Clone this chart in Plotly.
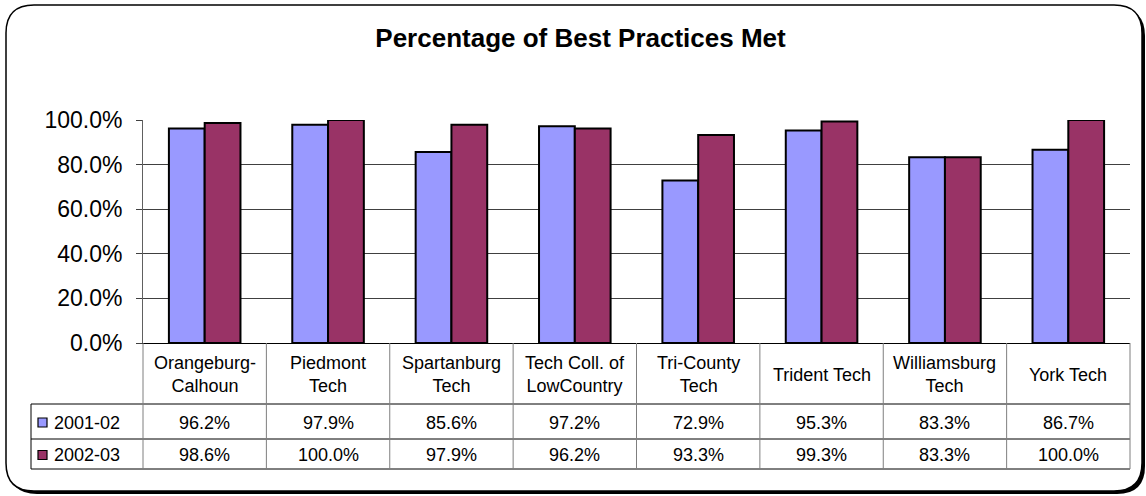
import plotly.graph_objects as go

# ---------------- data ----------------
categories = ["Orangeburg-<br>Calhoun", "Piedmont<br>Tech", "Spartanburg<br>Tech",
              "Tech Coll. of<br>LowCountry", "Tri-County<br>Tech", "Trident Tech",
              "Williamsburg<br>Tech", "York Tech"]
series_names = ["2001-02", "2002-03"]
values_2001_02 = [0.962, 0.979, 0.856, 0.972, 0.729, 0.953, 0.833, 0.867]
values_2002_03 = [0.986, 1.000, 0.979, 0.962, 0.933, 0.993, 0.833, 1.000]
y_ticks = [0.0, 0.2, 0.4, 0.6, 0.8, 1.0]
title_text = "Percentage of Best Practices Met"

# ---------------- styling / geometry ----------------
colors = ["#9999FF", "#993366"]
FONT = "Liberation Sans, Arial, sans-serif"
W, H = 1146, 496
L, R, T, B = 143, 1130, 120, 343          # plot area in pixels
HDR_BOT, ROW1_BOT, TBL_BOT, LEG_LEFT = 404, 439, 469, 31
XR = [-0.5, len(categories) - 0.5]


def px(x):
    return (x - L) / (R - L)


def py(y):
    return (B - y) / (B - T)


def xd(v):  # x-axis value -> paper
    return (v - XR[0]) / (XR[1] - XR[0])


def rounded(x0, y0, x1, y1, r):
    pts = [
        f"M {px(x0 + r)} {py(y0)}",
        f"L {px(x1 - r)} {py(y0)}",
        f"Q {px(x1)} {py(y0)} {px(x1)} {py(y0 + r)}",
        f"L {px(x1)} {py(y1 - r)}",
        f"Q {px(x1)} {py(y1)} {px(x1 - r)} {py(y1)}",
        f"L {px(x0 + r)} {py(y1)}",
        f"Q {px(x0)} {py(y1)} {px(x0)} {py(y1 - r)}",
        f"L {px(x0)} {py(y0 + r)}",
        f"Q {px(x0)} {py(y0)} {px(x0 + r)} {py(y0)}",
        "Z",
    ]
    return " ".join(pts)


idx = list(range(len(categories)))
series_values = [values_2001_02, values_2002_03]

fig = go.Figure()
for name, vals, col in zip(series_names, series_values, colors):
    fig.add_trace(go.Bar(x=idx, y=vals, name=name, marker_color=col,
                         marker_line_color="black", marker_line_width=2,
                         showlegend=False, hoverinfo="skip"))

shapes = []
# outer frame with shadow
shapes.append(dict(type="path", xref="paper", yref="paper", layer="below",
                   path=rounded(9, 8, 1145, 494, 28),
                   fillcolor="black", line=dict(width=0)))
shapes.append(dict(type="path", xref="paper", yref="paper", layer="below",
                   path=rounded(6, 5, 1142, 491, 28),
                   fillcolor="white", line=dict(color="black", width=1.5)))

# horizontal table lines
for yy in (HDR_BOT, ROW1_BOT, TBL_BOT):
    shapes.append(dict(type="line", xref="paper", yref="paper",
                       x0=px(LEG_LEFT), x1=xd(XR[1]), y0=py(yy), y1=py(yy),
                       line=dict(color="black", width=1)))
# vertical column lines
for i in range(len(categories) + 1):
    shapes.append(dict(type="line", xref="paper", yref="paper",
                       x0=xd(i - 0.5), x1=xd(i - 0.5), y0=py(B), y1=py(TBL_BOT),
                       line=dict(color="#7f7f7f", width=1)))
shapes.append(dict(type="line", xref="paper", yref="paper",
                   x0=px(LEG_LEFT), x1=px(LEG_LEFT), y0=py(HDR_BOT), y1=py(TBL_BOT),
                   line=dict(color="black", width=1)))

annotations = []
row_centers = [(HDR_BOT + ROW1_BOT) / 2 + 1, (ROW1_BOT + TBL_BOT) / 2 + 1]
for name, col, rc in zip(series_names, colors, row_centers):
    shapes.append(dict(type="rect", xref="paper", yref="paper",
                       x0=px(38), x1=px(47), y0=py(rc + 4.5), y1=py(rc - 4.5),
                       fillcolor=col, line=dict(color="black", width=1.2)))
    annotations.append(dict(x=px(52), y=py(rc), xref="paper", yref="paper",
                            text=name, showarrow=False, xanchor="left",
                            yanchor="middle", font=dict(size=18, color="black")))

for vals, rc in zip(series_values, row_centers):
    for i, v in zip(idx, vals):
        annotations.append(dict(x=i, y=py(rc), xref="x", yref="paper",
                                text=f"{v * 100:.1f}%", showarrow=False,
                                xanchor="center", yanchor="middle",
                                font=dict(size=18, color="black")))

for i, c in zip(idx, categories):
    annotations.append(dict(x=i, y=py((B + HDR_BOT) / 2 + 1), xref="x", yref="paper",
                            text=c, showarrow=False, xanchor="center",
                            yanchor="middle", font=dict(size=18, color="black")))

fig.update_layout(
    width=W, height=H,
    margin=dict(l=L, r=W - R, t=T, b=H - B, pad=0),
    paper_bgcolor="white", plot_bgcolor="rgba(0,0,0,0)",
    font=dict(family=FONT, color="black"),
    barmode="group", bargap=0.42, bargroupgap=0,
    title=dict(text=title_text, x=580.5 / W, xanchor="center", xref="container",
               y=1 - 37.5 / H, yanchor="middle", yref="container",
               font=dict(size=26, family=FONT, color="black", weight="bold")),
    xaxis=dict(range=XR, showticklabels=False, showgrid=False, zeroline=False,
               showline=True, linecolor="black", linewidth=1, ticks=""),
    yaxis=dict(range=[0, 1], tickvals=y_ticks, tickformat=".1%",
               ticks="outside", ticklen=6, tickcolor="#404040",
               showline=True, linecolor="#606060", linewidth=1,
               showgrid=True, gridcolor="#404040", gridwidth=1, zeroline=False,
               tickfont=dict(size=23, color="black"), ticklabelstandoff=9),
    shapes=shapes, annotations=annotations,
)

fig.write_html("out.html", config={"displayModeBar": False},
               post_script="document.body.style.margin='0';document.body.style.overflow='hidden';")
